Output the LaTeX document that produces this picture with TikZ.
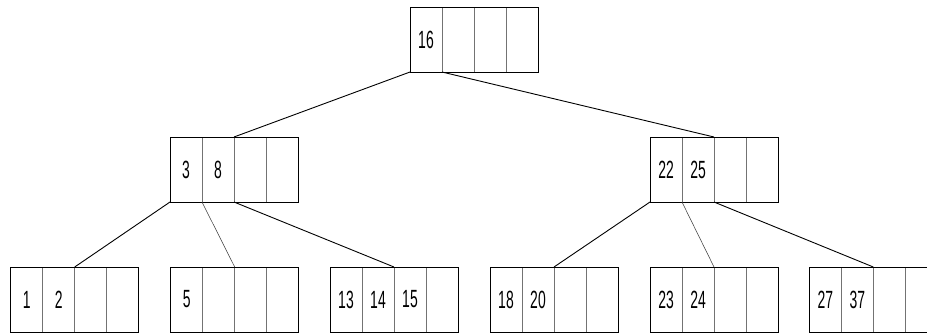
\documentclass[tikz,border=0pt]{standalone}
\usepackage{fontspec}
\setmainfont{Liberation Sans}[FakeStretch=0.56]
\tikzset{
  cell/.style={draw=black!55, line width=0.6bp, minimum width=32bp, minimum height=65bp,
    inner sep=0pt, outer sep=0pt, font=\fontsize{25}{25}\selectfont},
  outer/.style={draw=black, line width=0.8bp},
  link/.style={draw=black, line width=0.9bp},
  thinlink/.style={draw=black!75, line width=0.55bp},
}
\newcommand\bnode[7]{%
  \foreach \i/\t in {1/#4,2/#5,3/#6,4/#7}{%
    \node[cell] (#1-\i) at ({#2+32*\i-16},{#3+32.5}) {\t};
  }%
  \draw[outer] (#1-1.north west) rectangle (#1-4.south east);
}
\begin{document}
\begin{tikzpicture}[x=1bp,y=-1bp]
\clip (0,0) rectangle (927,335);
\fill[white] (0,0) rectangle (927,335);
\bnode{root}{410}{7}{16}{}{}{}
\bnode{L}{170}{137}{3}{8}{}{}
\bnode{R}{650}{137}{22}{25}{}{}
\bnode{A}{10.7}{267}{1}{2}{}{}
\bnode{B}{170.7}{267}{5}{}{}{}
\bnode{C}{330}{267}{13}{14}{15}{}
\bnode{D}{490}{267}{18}{20}{}{}
\bnode{E}{650}{267}{23}{24}{}{}
\bnode{F}{809.3}{267}{27}{37}{}{}
\draw[link] (root-1.south west) -- (L-3.north west);
\draw[link] (root-2.south west) -- (R-3.north west);
\draw[link] (L-1.south west) -- (A-3.north west);
\draw[thinlink] (L-2.south west) -- (B-3.north west);
\draw[link] (L-3.south west) -- (C-3.north west);
\draw[link] (R-1.south west) -- (D-3.north west);
\draw[thinlink] (R-2.south west) -- (E-3.north west);
\draw[link] (R-3.south west) -- (F-3.north west);
\end{tikzpicture}
\end{document}
